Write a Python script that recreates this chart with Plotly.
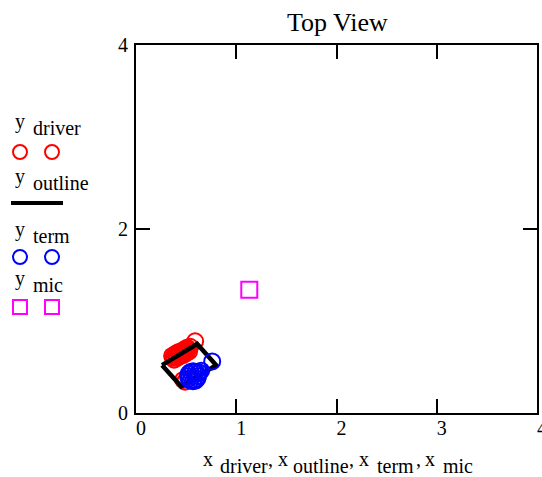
import plotly.graph_objects as go

# ---------------- data ----------------
x_driver = [0.36, 0.39, 0.42, 0.45, 0.48, 0.51, 0.54,
            0.37, 0.40, 0.43, 0.46, 0.49, 0.52,
            0.38, 0.41, 0.44, 0.47, 0.50, 0.53,
            0.59, 0.49, 0.47]
y_driver = [0.62, 0.64, 0.66, 0.67, 0.69, 0.71, 0.72,
            0.60, 0.62, 0.64, 0.65, 0.67, 0.69,
            0.58, 0.60, 0.62, 0.63, 0.65, 0.67,
            0.78, 0.34, 0.36]

x_outline = [0.26, 0.61, 0.80, 0.45, 0.26, None, 0.565, 0.575]
y_outline = [0.52, 0.75, 0.52, 0.29, 0.52, None, 0.40, 0.40]

x_term = [0.619, 0.612, 0.594, 0.569, 0.544, 0.526, 0.519, 0.526, 0.544, 0.569, 0.594, 0.612,
          0.63, 0.65, 0.76]
y_term = [0.400, 0.427, 0.447, 0.454, 0.447, 0.427, 0.400, 0.373, 0.353, 0.346, 0.353, 0.373,
          0.44, 0.46, 0.56]

x_mic = [1.13]
y_mic = [1.34]

title_text = "Top View"
tick_vals_x = [0, 1, 2, 3, 4]
tick_vals_y = [0, 2, 4]

# ---------------- layout helpers ----------------
W, H = 542, 477
PX0, PX1, PY0, PY1 = 136, 537, 45, 413
FONT = "Liberation Serif"


def px(x):
    return (x - PX0) / (PX1 - PX0)


def py(y):
    return (PY1 - y) / (PY1 - PY0)


fig = go.Figure()
fig.add_trace(go.Scatter(x=x_driver, y=y_driver, mode="markers",
                         marker=dict(symbol="circle-open", size=16, color="#ff0000",
                                     line=dict(width=2, color="#ff0000")),
                         showlegend=False))
fig.add_trace(go.Scatter(x=x_outline, y=y_outline, mode="lines",
                         line=dict(color="black", width=4.5),
                         showlegend=False))
fig.add_trace(go.Scatter(x=x_term, y=y_term, mode="markers",
                         marker=dict(symbol="circle-open", size=16, color="#0000ff",
                                     line=dict(width=2, color="#0000ff")),
                         showlegend=False))
fig.add_trace(go.Scatter(x=x_mic, y=y_mic, mode="markers",
                         marker=dict(symbol="square-open", size=16, color="#ff00ff",
                                     line=dict(width=2, color="#ff00ff")),
                         showlegend=False))

axis_common = dict(showline=True, linewidth=2, linecolor="black", mirror="allticks",
                   ticks="inside", ticklen=14, tickwidth=2, tickcolor="black",
                   showgrid=False, zeroline=False, automargin=False,
                   ticklabeloverflow="allow",
                   tickfont=dict(family=FONT, size=20, color="black"))
fig.update_xaxes(range=[0, 4], tickvals=tick_vals_x, ticklabelshift=5,
                 ticklabelstandoff=-4, **axis_common)
fig.update_yaxes(range=[0, 4], tickvals=tick_vals_y, ticklabelstandoff=2, **axis_common)

annotations = []
# title
annotations.append(dict(text=title_text, x=px(337), y=py(22), xref="paper", yref="paper",
                        showarrow=False, font=dict(family=FONT, size=26, color="black"),
                        xanchor="center", yanchor="middle"))

# x axis title pieces: (text, center px x, row)
xt_pieces = [("x", 208, 0), ("driver", 243.5, 1), (",", 270, 0),
             ("x", 282.5, 0), ("outline", 321, 1), (",", 351, 0),
             ("x", 363.5, 0), ("term", 395, 1), (",", 418.5, 0),
             ("x", 430, 0), ("mic", 458, 1)]
for t, cx, row in xt_pieces:
    annotations.append(dict(text=t, x=px(cx), y=py(459 if row == 0 else 466),
                            xref="paper", yref="paper", showarrow=False,
                            font=dict(family=FONT, size=20, color="black"),
                            xanchor="center", yanchor="middle"))

# legend text
leg_items = [("driver", 121), ("outline", 176), ("term", 229), ("mic", 278)]
for word, yy in leg_items:
    annotations.append(dict(text="y", x=px(20), y=py(yy), xref="paper", yref="paper",
                            showarrow=False, font=dict(family=FONT, size=20, color="black"),
                            xanchor="center", yanchor="middle"))
    annotations.append(dict(text=word, x=px(31), y=py(yy + 7), xref="paper", yref="paper",
                            showarrow=False, font=dict(family=FONT, size=20, color="black"),
                            xanchor="left", yanchor="middle"))

shapes = []
# legend symbols
for cx in (20, 52):
    shapes.append(dict(type="circle", xref="paper", yref="paper", xsizemode="pixel",
                       ysizemode="pixel", xanchor=px(cx), yanchor=py(152),
                       x0=-7, x1=7, y0=-7, y1=7, line=dict(color="#ff0000", width=2)))
    shapes.append(dict(type="circle", xref="paper", yref="paper", xsizemode="pixel",
                       ysizemode="pixel", xanchor=px(cx), yanchor=py(257),
                       x0=-7, x1=7, y0=-7, y1=7, line=dict(color="#0000ff", width=2)))
    shapes.append(dict(type="rect", xref="paper", yref="paper", xsizemode="pixel",
                       ysizemode="pixel", xanchor=px(cx), yanchor=py(307),
                       x0=-7, x1=7, y0=-7, y1=7, line=dict(color="#ff00ff", width=2)))
shapes.append(dict(type="line", xref="paper", yref="paper", x0=px(11), x1=px(63),
                   y0=py(203), y1=py(203), line=dict(color="black", width=4)))

fig.update_layout(width=W, height=H,
                  margin=dict(l=PX0, r=W - PX1, t=PY0, b=H - PY1, pad=0),
                  paper_bgcolor="white", plot_bgcolor="white",
                  annotations=annotations, shapes=shapes, showlegend=False)

fig.write_html("out.html", config={"displayModeBar": False},
               post_script="document.body.style.margin='0';document.body.style.overflow='hidden';")
